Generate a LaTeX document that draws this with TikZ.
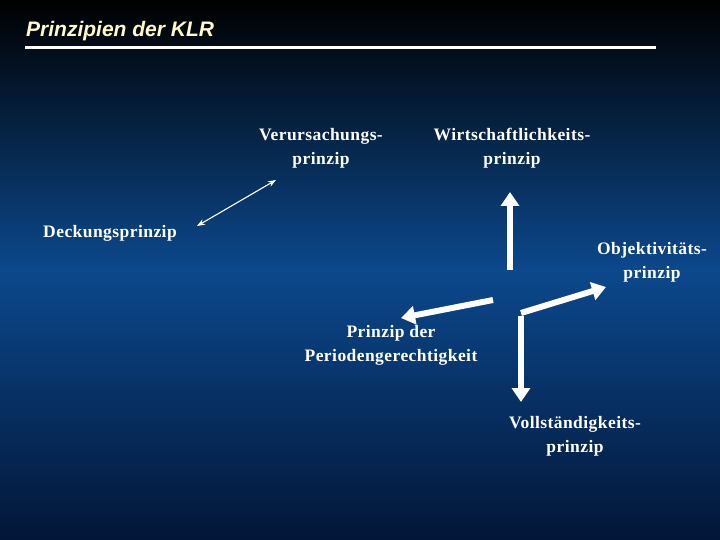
\documentclass[tikz,border=0pt]{standalone}
\usepackage{fontspec}
\setmainfont{Liberation Serif}
\newfontfamily\lblfont[LetterSpace=2.5]{Liberation Serif}
\newfontfamily\titlefont{Liberation Sans}
\usetikzlibrary{arrows.meta}
\definecolor{midblue}{RGB}{12,72,140}
\definecolor{botblue}{RGB}{2,22,55}
\definecolor{titleyel}{RGB}{255,250,200}
\begin{document}
\begin{tikzpicture}[x=1pt,y=-1pt,
  lbl/.style={text=white,font=\lblfont\bfseries\fontsize{17.5}{24}\selectfont,align=center,inner sep=0pt},
  fat/.style={white,line width=6pt,-{Triangle[length=14pt,width=18pt]}},
  thin/.style={white,line width=1.1pt,{Stealth[length=8pt,width=6pt]}-{Stealth[length=8pt,width=6pt]}}]
\shade[top color=black,bottom color=midblue] (0,0) rectangle (720,270);
\shade[top color=midblue,bottom color=botblue] (0,270) rectangle (720,540);
\useasboundingbox (0,0) rectangle (720,540);
\node[anchor=west,text=titleyel,font=\titlefont\bfseries\itshape\fontsize{21}{26}\selectfont,inner sep=0pt] (title) at (26,31) {Prinzipien der KLR};
\draw[white,line width=3pt] (25,48) -- (656,48);
\node[lbl] (ver) at (321,148) {Verursachungs-\\prinzip};
\node[lbl] (wir) at (512,148) {Wirtschaftlichkeits-\\prinzip};
\node[lbl] (dec) at (110,233) {Deckungsprinzip};
\node[lbl] (obj) at (652,262) {Objektivitäts-\\prinzip};
\node[lbl] (per) at (391,345) {Prinzip der\\Periodengerechtigkeit};
\node[lbl] (vol) at (575,436) {Vollständigkeits-\\prinzip};
\coordinate (c1) at (197,226);
\coordinate (c2) at (276,180);
\draw[thin] (c1) -- (c2);
\coordinate (u0) at (510,270);
\coordinate (u1) at (510,192);
\draw[fat] (u0) -- (u1);
\coordinate (l0) at (493,300);
\coordinate (l1) at (401,318);
\draw[fat] (l0) -- (l1);
\coordinate (e0) at (521,316);
\coordinate (e1) at (521,402);
\coordinate (e2) at (606,287);
\draw[fat] (e0) -- (e1);
\draw[fat] ([yshift=3pt]e0) -- (e2);
\end{tikzpicture}
\end{document}
